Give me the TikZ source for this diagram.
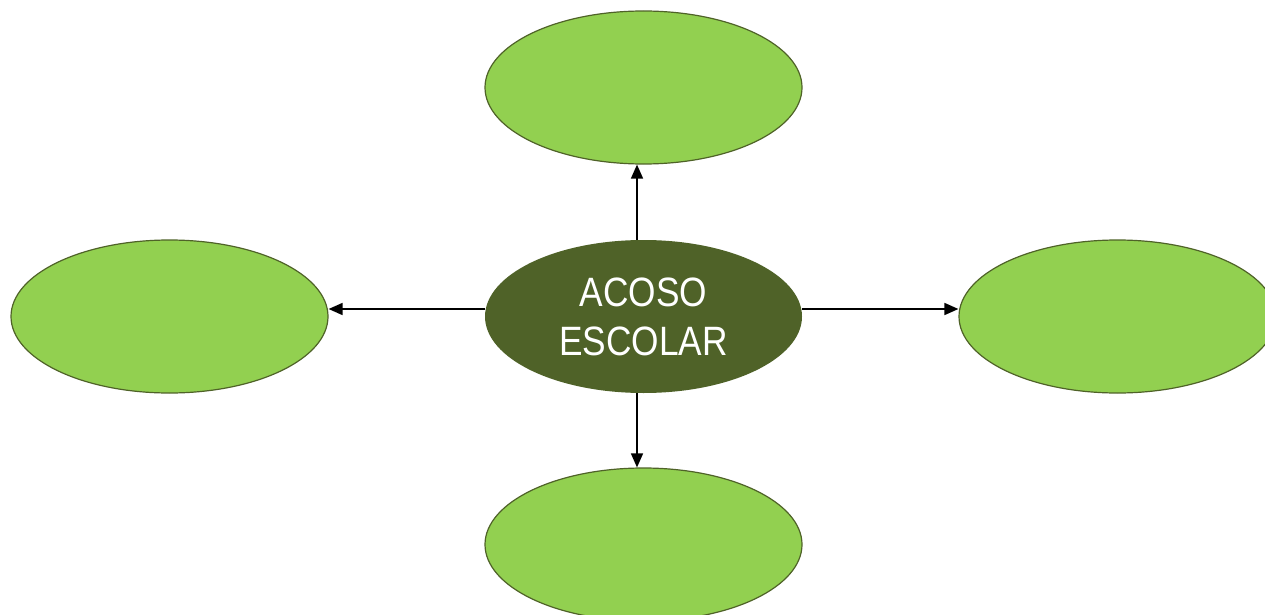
\documentclass[tikz,border=0pt]{standalone}
\usepackage{fontspec}
\setmainfont{Liberation Sans}[FakeStretch=0.86]
\usetikzlibrary{shapes.geometric,arrows.meta}
\definecolor{lightg}{HTML}{92D050}
\definecolor{darkg}{HTML}{4F6228}
\begin{document}
\begin{tikzpicture}[x=1pt,y=-1pt,
  leaf/.style={ellipse,draw=darkg,line width=1.2pt,fill=lightg,minimum width=317pt,minimum height=153pt,inner sep=0pt},
  hub/.style={ellipse,fill=darkg,minimum width=317pt,minimum height=153pt,inner sep=0pt,text=white,align=center,font=\fontsize{41}{49}\selectfont},
  link/.style={line width=1.6pt,-{Triangle[length=14pt,width=12pt]}}]
\useasboundingbox (0,0) rectangle (1265,615);
\node[hub] (c) at (643.5,316.5) {ACOSO\\ESCOLAR};
\node[leaf] (t) at (643.5,87.5) {};
\node[leaf] (l) at (169.5,316.5) {};
\node[leaf] (r) at (1117.5,316.5) {};
\node[leaf] (b) at (643.5,544.5) {};
\draw[link] ([xshift=-6.5pt]c.north) -- ([xshift=-6.5pt]t.south);
\draw[link] ([xshift=-6.5pt]c.south) -- ([xshift=-6.5pt]b.north);
\draw[link] ([yshift=7.5pt]c.west) -- ([yshift=7.5pt]l.east);
\draw[link] ([yshift=7.5pt]c.east) -- ([yshift=7.5pt]r.west);
\end{tikzpicture}
\end{document}
